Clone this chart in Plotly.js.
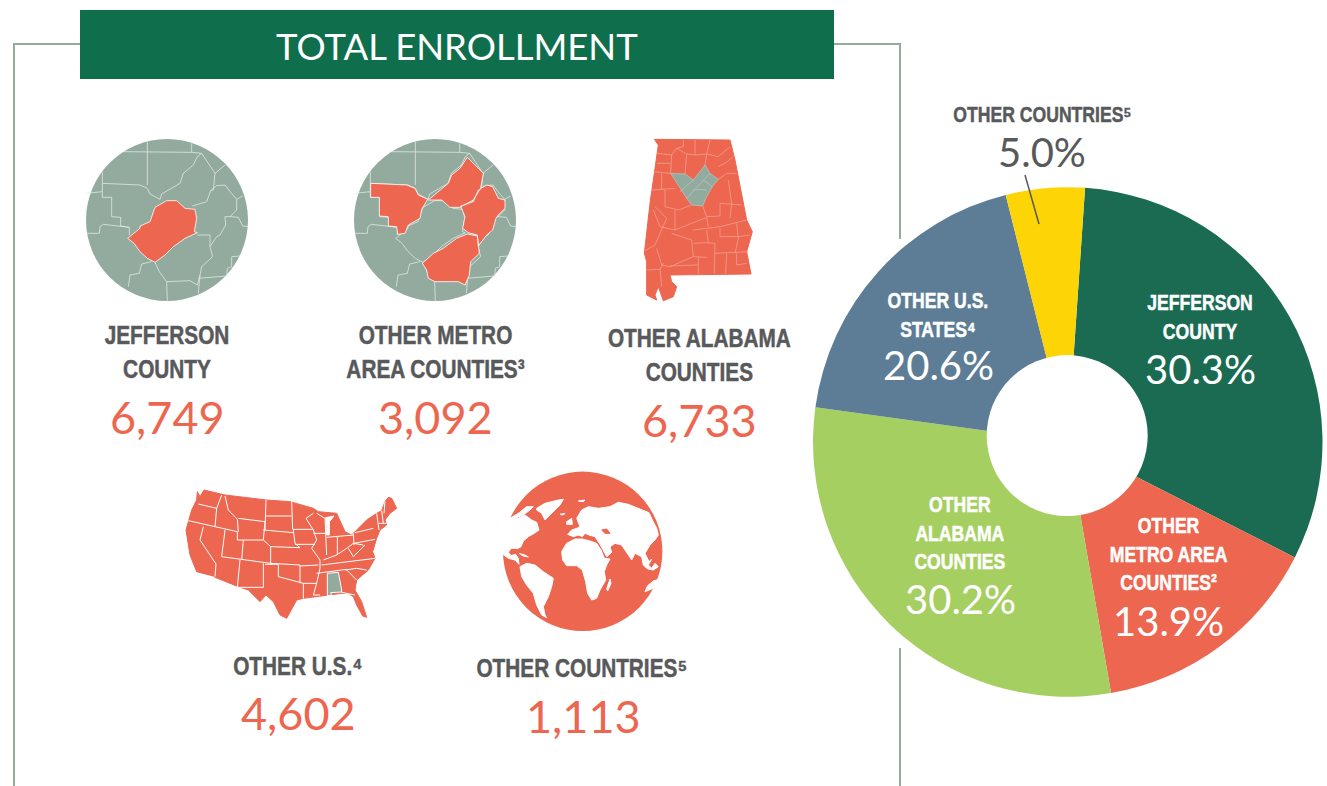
<!DOCTYPE html>
<html>
<head>
<meta charset="utf-8">
<script src="https://cdn.plot.ly/plotly-3.0.1.min.js"></script>
<style>
html, body { margin: 0; padding: 0; background: #fff; overflow: hidden; }
#chart { width: 1327px; height: 786px; }
</style>
</head>
<body>
<div id="chart"></div>
<script>
// values printed in the picture
const categories = ['JEFFERSON<br>COUNTY', 'OTHER METRO<br>AREA COUNTIES³', 'OTHER ALABAMA<br>COUNTIES', 'OTHER U.S.⁴', 'OTHER COUNTRIES⁵'];
const counts = ['6,749', '3,092', '6,733', '4,602', '1,113'];
const pieLabels = ['JEFFERSON<br>COUNTY', 'OTHER<br>METRO AREA<br>COUNTIES²', 'OTHER<br>ALABAMA<br>COUNTIES', 'OTHER U.S.<br>STATES⁴', 'OTHER COUNTRIES⁵'];
const percents = ['30.3%', '13.9%', '30.2%', '20.6%', '5.0%'];
// wedge sizes, its wedges are not drawn quite to the printed percents
const wedgeShares = [31.4, 14.8, 29.9, 18.9, 5.0];

const SAGE = '#92ab9e', CORAL = '#ed6650', GREY = '#58595b', GREEN = '#0f6e4c', FRAME = '#8fae9b';
const NARROW = '"Liberation Sans", sans-serif';
const LIGHT = 'Lato, "Open Sans", sans-serif';
const SQUEEZE = 0.8; // no condensed face installed, so the labels get squeezed after plotting
const pieColors = ['#1a6b51', CORAL, '#a5d061', '#5c7d95', '#fdd405'];

// text centres on the page
const catPos = [[167, 352], [435, 352], [699, 355], [298, 666], [582, 668]];
const countPos = [[167, 417], [435, 417], [699, 420], [298, 713], [583, 716]];
const pieLabelPos = [[1200, 317], [1168, 554], [960, 533], [938, 315], [1042, 114]];
const percentPos = [[1200, 369], [1168, 621], [960, 599], [938, 365], [1042, 152]];

const jefferson = [203,355, 240,325, 240,318, 270,305, 285,262, 320,242, 350,242, 375,265, 405,268, 410,295, 403,335, 412,338, 375,355, 340,380, 315,405, 285,427, 262,415, 240,395, 222,370];
const countyLines = [
  [262,65, 262,195], [190,95, 262,95, 395,97, 425,100, 465,160, 460,210], [395,70, 395,97],
  [127,155, 127,190, 240,195, 262,205, 270,222, 300,238, 305,222, 360,190, 370,160, 400,135, 412,110, 425,100],
  [127,190, 127,215, 80,220], [127,215, 127,232, 155,232, 155,290, 182,292, 182,318, 208,322, 208,345],
  [80,340, 118,340, 120,320, 130,313, 208,322], [465,160, 495,135],
  [460,210, 452,212, 470,197, 495,195, 510,215, 530,238, 548,228], [397,258, 440,245, 452,212],
  [530,238, 530,270, 510,290, 535,292, 548,318, 565,320],
  [510,290, 495,290, 497,315, 480,345, 470,350, 450,380, 450,345, 412,345],
  [450,380, 458,410, 425,440, 420,465, 415,520], [415,475, 500,468], [500,468, 502,445, 515,440, 515,410, 540,408],
  [285,427, 298,455, 320,485, 390,482, 412,495, 420,465], [320,485, 322,545], [275,425, 245,432, 238,460, 210,465, 205,500]
];
const metroShapes = [
  [932,190, 1040,195, 1065,205, 1075,225, 1103,238, 1085,268, 1080,295, 1045,315, 1035,340, 1013,343, 1010,320, 985,318, 985,290, 958,288, 958,232, 932,232],
  [1105,240, 1140,212, 1165,190, 1175,165, 1200,145, 1222,112, 1270,160, 1262,205, 1240,240, 1200,262, 1170,262, 1145,240, 1115,240],
  [1202,258, 1240,245, 1255,210, 1280,195, 1298,200, 1315,235, 1335,240, 1335,265, 1315,285, 1308,295, 1298,330, 1280,345, 1255,378, 1252,345, 1225,338, 1208,325, 1215,290],
  [1222,342, 1252,348, 1258,400, 1232,425, 1228,465, 1215,495, 1195,485, 1125,485, 1105,475, 1100,450, 1087,430, 1120,400, 1150,385, 1190,355]
];
const alabama = [58,28, 285,30, 300,90, 320,190, 335,270, 352,305, 345,330, 335,365, 348,432, 105,435, 110,455, 125,470, 115,500, 85,512, 70,470, 60,495, 65,510, 35,495, 35,395, 28,370, 45,220, 55,150, 65,70, 70,45];
const alabamaMetro = [107,130, 150,132, 175,150, 210,105, 225,130, 250,148, 232,170, 215,200, 203,228, 170,225, 155,205, 120,150];
const alabamaMetroLines = [[135,185, 175,150], [155,205, 205,150, 225,130], [205,150, 232,170], [175,178, 215,180]];
const alabamaLines = [
  [65,70, 110,75, 125,55, 145,50, 145,30], [125,55, 155,72, 180,75, 180,30], [225,30, 215,72, 180,75], [215,72, 250,80, 285,50],
  [110,75, 107,130], [155,72, 150,132], [65,100, 107,100], [55,125, 107,130], [210,105, 215,72], [250,110, 270,100, 295,80],
  [250,148, 275,130, 305,130], [280,150, 290,220], [80,130, 80,178, 50,180], [80,178, 120,175], [90,178, 90,230, 130,240, 170,225],
  [203,228, 215,260, 255,258, 255,220, 320,225], [290,220, 285,265], [120,240, 120,300, 75,290, 55,240], [60,230, 95,265, 75,310, 60,345, 30,362],
  [120,300, 215,262], [175,300, 255,290, 335,270], [215,262, 220,290], [110,310, 170,330, 175,380, 215,382], [175,380, 105,410, 80,405, 65,355],
  [175,340, 215,338, 240,340, 240,370, 238,430], [215,300, 220,340], [255,295, 255,320, 310,320, 345,315], [305,280, 310,325, 300,370],
  [240,370, 340,365], [275,370, 272,430], [305,370, 305,405, 335,400], [190,380, 190,432], [105,408, 188,405], [35,420, 75,418, 85,400], [75,418, 80,470]
];
const usOutline = [52,35, 60,50, 72,30, 125,42, 135,45, 260,60, 330,65, 400,85, 415,95, 470,100, 480,120, 495,155, 515,165, 530,150, 560,120, 590,100, 605,92, 615,65, 625,52, 635,55, 650,85, 630,100, 615,120, 620,135, 600,150, 590,175, 585,190, 578,215, 585,235, 565,270, 530,300, 525,330, 545,365, 560,412, 548,408, 530,375, 520,350, 505,340, 485,340, 445,345, 410,350, 370,355, 350,360, 320,415, 300,405, 280,365, 258,345, 240,365, 205,330, 175,320, 105,292, 100,288, 50,275, 30,225, 18,150, 35,90, 50,60];
const usLakes = [[437,113, 462,108, 448,125, 448,165, 440,165]];
const usAlabama = [442,280, 475,277, 485,330, 485,336, 452,338, 455,347, 442,347];
const usLines = [
  [55,72, 110,85], [125,45, 110,85, 105,140], [25,122, 172,155], [70,140, 60,180, 108,252], [135,150, 125,230], [135,48, 145,90, 172,118, 175,155],
  [175,115, 255,125, 250,180], [172,155, 172,180, 250,180], [258,60, 255,150], [255,108, 335,108], [250,150, 340,158], [190,180, 185,240],
  [125,230, 272,250, 360,255], [272,200, 272,250], [250,180, 272,200, 360,203], [180,240, 172,322], [250,250, 250,322], [172,322, 250,322], [108,252, 105,290],
  [255,253, 295,253, 295,290, 330,300, 370,310], [360,255, 360,310], [360,258, 415,255], [370,310, 370,355], [370,310, 410,310],
  [335,65, 338,148, 398,148], [340,150, 345,190, 360,203], [378,115, 400,150, 410,180, 395,205, 420,240, 420,265, 410,310, 400,345, 420,345],
  [400,100, 378,115], [345,193, 405,193], [400,160, 437,160], [410,100, 435,115, 437,160], [437,160, 440,225], [430,240, 470,225, 500,205, 520,190, 550,195],
  [472,170, 472,225], [440,172, 520,165], [520,160, 522,195], [525,158, 580,145], [522,190, 585,178], [425,255, 585,235], [410,280, 500,268],
  [485,337, 525,345], [500,270, 530,300], [495,270, 530,265, 560,270], [590,100, 597,150], [605,92, 610,130], [597,130, 620,130], [615,65, 612,100],
  [505,205, 520,230, 555,195]
];
const globeLand = [
  [40,165, 48,160, 70,160, 90,150, 110,165, 125,172, 132,195, 118,205, 100,215, 85,228, 78,245, 70,250, 48,250, 40,262, 48,272, 62,268, 70,280, 72,298, 60,285, 40,280, 24,268, 10,268, 10,165],
  [72,265, 90,270, 100,276, 85,273],
  [125,130, 150,115, 190,105, 205,103, 195,120, 180,135, 165,150, 150,165, 140,145, 125,135],
  [45,160, 70,145, 95,125, 115,125, 105,135, 85,150, 65,158],
  [75,305, 95,295, 120,300, 145,320, 175,340, 170,365, 160,395, 145,425, 150,450, 155,458, 140,450, 125,420, 115,385, 95,360, 80,335],
  [200,260, 215,235, 240,222, 262,222, 285,228, 305,235, 318,255, 328,280, 345,282, 335,300, 328,320, 332,345, 315,375, 305,400, 290,405, 278,385, 272,350, 262,315, 245,302, 215,302, 203,285],
  [218,208, 230,195, 245,190, 255,185, 245,160, 260,135, 280,125, 310,130, 345,125, 370,112, 400,118, 435,133, 462,143, 472,165, 485,190, 490,210, 480,225, 465,240, 450,265, 462,290, 470,282, 455,310, 445,300, 440,275, 420,265, 410,285, 395,262, 380,240, 360,235, 345,245, 350,262, 335,275, 315,238, 305,225, 300,215, 282,210, 270,205, 262,215, 250,210, 235,215],
  [215,170, 230,160, 232,178, 215,178], [195,148, 210,145, 205,150], [250,108, 270,105, 265,110],
  [335,372, 345,342, 348,355, 338,378], [460,300, 470,310, 480,295, 490,305, 475,315, 458,312],
  [450,380, 458,362, 475,348, 500,340, 510,370, 475,370]
];
const globeSeas = [[320,195, 335,192, 345,205, 330,205]];

// crop coords to page coords, then null separated so one trace holds many polygons
function toPage(lists, ox, oy) {
  const x = [], y = [];
  lists.forEach(pts => {
    for (let i = 0; i < pts.length; i += 2) {
      x.push(ox + pts[i] / 3);
      y.push(oy + pts[i + 1] / 3);
    }
    x.push(null);
    y.push(null);
  });
  return { x, y };
}
const closed = pts => pts.concat(pts.slice(0, 2));

function fillTrace(lists, ox, oy, color, edge, width) {
  const p = toPage(lists.map(closed), ox, oy);
  return { x: p.x, y: p.y, type: 'scatter', mode: 'lines', fill: 'toself', fillcolor: color,
    line: { color: edge || color, width: width === undefined ? 1 : width }, hoverinfo: 'skip', showlegend: false };
}
function lineTrace(lists, ox, oy, color, width) {
  const p = toPage(lists, ox, oy);
  return { x: p.x, y: p.y, type: 'scatter', mode: 'lines', line: { color: color, width: width }, hoverinfo: 'skip', showlegend: false };
}

const traces = [
  // Jefferson circle
  lineTrace(countyLines, 60, 120, '#dfe7e2', 0.8),
  fillTrace([jefferson], 60, 120, CORAL, '#fff', 0.8),
  // metro circle, same county lines moved across
  lineTrace(countyLines, 328, 120, '#dfe7e2', 0.8),
  lineTrace([closed(jefferson)], 328, 120, '#dfe7e2', 0.8),
  fillTrace(metroShapes, 60, 120, CORAL, '#fff', 0.8),
  // Alabama
  fillTrace([alabama], 635, 130, CORAL),
  lineTrace(alabamaLines, 635, 130, '#f4a696', 0.7),
  fillTrace([alabamaMetro], 635, 130, SAGE, '#b9c9c0', 0.7),
  lineTrace(alabamaMetroLines, 635, 130, '#b9c9c0', 0.7),
  // U.S.
  fillTrace([usOutline], 180, 480, CORAL),
  fillTrace(usLakes, 180, 480, '#fff'),
  lineTrace(usLines, 180, 480, '#fff', 1),
  fillTrace([usAlabama], 180, 480, SAGE, '#fff', 1),
  // globe
  fillTrace(globeLand, 495, 465, '#fff'),
  fillTrace(globeSeas, 495, 465, CORAL),
  {
    type: 'pie',
    values: wedgeShares,
    labels: categories,
    marker: { colors: pieColors, line: { width: 0 } },
    sort: false,
    direction: 'clockwise',
    rotation: 3.9,
    hole: 0.2,
    textinfo: 'none',
    hoverinfo: 'skip',
    showlegend: false,
    domain: { x: [813 / 1327, 1322.5 / 1327], y: [1 - 697 / 786, 1 - 187 / 786] }
  }
];

const line = (x0, y0, x1, y1, color, width) => ({ type: 'line', xref: 'x', yref: 'y', x0, y0, x1, y1, layer: 'below', line: { color, width } });
const disc = (cx, cy, r, color, layer) => ({ type: 'circle', xref: 'x', yref: 'y', x0: cx - r, x1: cx + r, y0: cy - r, y1: cy + r, layer: layer || 'below', fillcolor: color, line: { width: 0 } });

const shapes = [
  line(13, 44, 80, 44, FRAME, 2),
  line(834, 44, 901, 44, FRAME, 2),
  line(14, 43, 14, 786, FRAME, 2),
  line(900, 43, 900, 239, FRAME, 2),
  line(900, 648, 900, 786, FRAME, 2),
  { type: 'rect', xref: 'x', yref: 'y', x0: 80, x1: 834, y0: 10, y1: 79, layer: 'below', fillcolor: GREEN, line: { width: 0 } },
  disc(167, 220, 81, SAGE),
  disc(435, 220, 81, SAGE),
  disc(582.7, 551.3, 79.7, CORAL),
  // the hole sits 6px above the wedge centre in the picture, pie holes are always concentric
  disc(1067.2, 435.6, 80.5, '#fff', 'above'),
  { type: 'line', xref: 'x', yref: 'y', x0: 1025, y0: 175, x1: 1039, y1: 224, layer: 'above', line: { color: GREY, width: 1.5 } }
];

const note = (pos, text, size, color, family, weight) => ({
  xref: 'x', yref: 'y', x: pos[0], y: pos[1], text: text, showarrow: false, xanchor: 'center', yanchor: 'middle', align: 'center',
  font: { family: family, size: size, color: color, weight: weight }
});

const annotations = [note([457, 45.5], 'TOTAL ENROLLMENT', 36.5, '#fff', LIGHT, 400)];
categories.forEach((c, i) => {
  annotations.push(note(catPos[i], c, 26, GREY, NARROW, 700));
  annotations.push(note(countPos[i], counts[i], 45, CORAL, LIGHT, 400));
});
pieLabels.forEach((c, i) => {
  const color = i === 4 ? GREY : '#fff';
  annotations.push(note(pieLabelPos[i], c, 22, color, NARROW, 700));
  annotations.push(note(percentPos[i], percents[i], 40, color, LIGHT, 400));
});

const hidden = { visible: false, fixedrange: true, domain: [0, 1] };
Plotly.newPlot('chart', traces, {
  width: 1327,
  height: 786,
  margin: { l: 0, r: 0, t: 0, b: 0 },
  paper_bgcolor: '#fff',
  plot_bgcolor: '#fff',
  showlegend: false,
  xaxis: Object.assign({ range: [0, 1327] }, hidden),
  yaxis: Object.assign({ range: [786, 0] }, hidden),
  shapes: shapes,
  annotations: annotations
}, { staticPlot: true, displayModeBar: false }).then(() => {
  document.querySelectorAll('.annotation-text').forEach(el => {
    if (!el.style.fontFamily.includes('Liberation')) return;
    const box = el.getBBox();
    const cx = box.x + box.width / 2;
    el.setAttribute('transform', `translate(${cx * (1 - SQUEEZE)} 0) scale(${SQUEEZE} 1)`);
    // squeezing thins the vertical strokes, a light outline brings the weight back
    el.style.stroke = el.style.fill;
    el.style.strokeWidth = '0.5px';
  });
});
</script>
</body>
</html>
